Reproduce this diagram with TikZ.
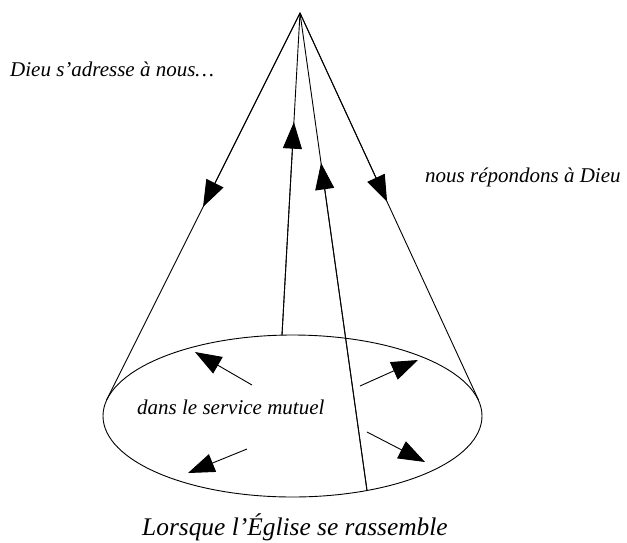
\documentclass[tikz,border=0pt]{standalone}
\usepackage{fontspec}
\setmainfont{Liberation Serif}
\usetikzlibrary{arrows.meta,calc,shapes.geometric}
\tikzset{
  line/.style={line width=0.9pt, line cap=round},
  head/.style={line width=0.9pt, -{Triangle[length=26.5pt,width=19pt]}},
  lab/.style={font=\fontsize{21}{24}\selectfont\itshape, inner sep=0pt, anchor=base west},
  titletext/.style={font=\fontsize{25.4}{29}\selectfont\itshape, inner sep=0pt, anchor=base west}
}
\begin{document}
\begin{tikzpicture}[x=1pt,y=-1pt]
  \useasboundingbox (0,0) rectangle (627,542);

  % apex of the cone and its base
  \coordinate (apex) at (300,13);
  \node[draw, ellipse, line width=0.9pt, minimum width=379pt, minimum height=162pt,
        inner sep=0pt] (base) at (292.5,416) {};

  % tangent points of the cone sides and feet of the inner lines
  \coordinate (tl) at (106.5,400);
  \coordinate (tr) at (478.5,400);
  \coordinate (f1) at (282,335);
  \coordinate (f2) at (367,490.5);

  % cone sides, with arrows pointing down
  \draw[line] (apex) -- (tl);
  \draw[line] (apex) -- (tr);
  \draw[head] (apex) -- ($(apex)!0.501!(tl)$);
  \draw[head] (apex) -- ($(apex)!0.488!(tr)$);

  % inner lines, with arrows pointing up
  \draw[line] (f1) -- (apex);
  \draw[line] (f2) -- (apex);
  \draw[head] (f1) -- ($(apex)!0.339!(f1)$);
  \draw[head] (f2) -- ($(apex)!0.314!(f2)$);

  % arrows within the base
  \coordinate (a1) at (252,385);  \coordinate (b1) at (195,352);
  \coordinate (a2) at (360,386);  \coordinate (b2) at (418,360);
  \coordinate (a3) at (367,432);  \coordinate (b3) at (425,462);
  \coordinate (a4) at (247,449);  \coordinate (b4) at (188,473);
  \draw[head] (a1) -- (b1);
  \draw[head] (a2) -- (b2);
  \draw[head] (a3) -- (b3);
  \draw[head] (a4) -- (b4);

  % labels
  \node[lab] (t1) at (10,76) {Dieu s’adresse à nous…};
  \node[lab] (t2) at (425,182) {nous répondons à Dieu};
  \node[lab] (t3) at (137,414) {dans le service mutuel};
  \node[titletext] (t4) at (142,535) {Lorsque l’Église se rassemble};
\end{tikzpicture}
\end{document}
